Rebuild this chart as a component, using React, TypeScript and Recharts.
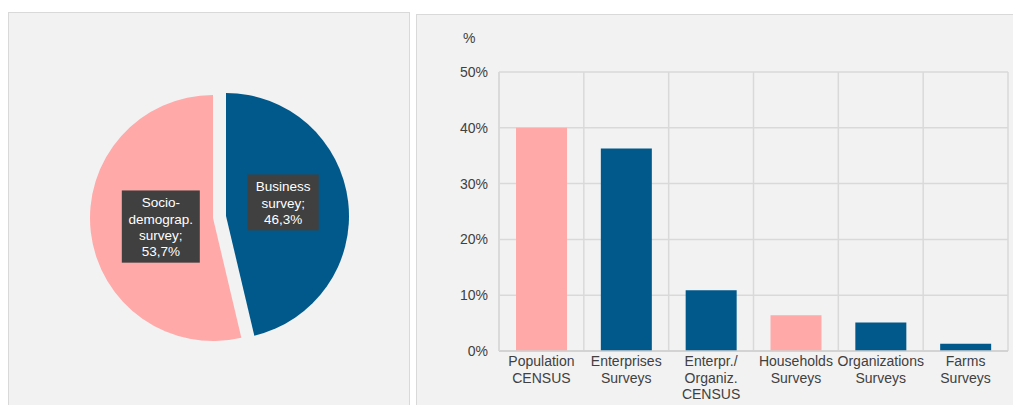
import { PieChart, Pie, Cell, BarChart, Bar, XAxis, YAxis, CartesianGrid } from 'recharts';

// pie: share of surveys by type
const pieNames = ['Business survey', 'Socio-demograp. survey'];
const pieValues = [46.3, 53.7];

// bars: share by survey kind
const barCategories = [
  'Population CENSUS',
  'Enterprises Surveys',
  'Enterpr./ Organiz. CENSUS',
  'Households Surveys',
  'Organizations Surveys',
  'Farms Surveys',
];
const barValues = [40, 36.3, 10.9, 6.4, 5.1, 1.3];
const barKinds = ['socio', 'business', 'business', 'socio', 'business', 'business'];
const yTicks = [0, 10, 20, 30, 40, 50];

const PINK = '#ffa9a9';
const BLUE = '#00598a';
const TEXT = '#404040';
const GRID = '#d9d9d9';
const FONT = '"Liberation Sans", Arial, sans-serif';

const pieData = pieNames.map((name, i) => ({ name, value: pieValues[i] }));
const barData = barCategories.map((name, i) => ({ name, value: barValues[i], kind: barKinds[i] }));

const labelLines: Record<string, string[]> = {
  'Business survey': ['Business', 'survey;'],
  'Socio-demograp. survey': ['Socio-', 'demograp.', 'survey;'],
};

const fmtPct = (v: number) => v.toFixed(1).replace('.', ',') + '%';

function makeLabel(showName: string, nx: number, ny: number) {
  return (props: any) => {
    const { cx, cy, midAngle, outerRadius, name, value } = props;
    if (name !== showName) return null;
    const rad = (Math.PI / 180) * midAngle;
    const r = outerRadius * 0.46;
    const x = cx + r * Math.cos(rad) + nx;
    const y = cy - r * Math.sin(rad) + ny;
    const lines = [...labelLines[name], fmtPct(value)];
    const lh = 16.3;
    const maxLen = Math.max(...lines.map((l) => l.length));
    const w = maxLen * 7 + 15;
    const h = lines.length * lh + 7;
    return (
      <g>
        <rect x={x - w / 2} y={y - h / 2} width={w} height={h} fill="#404040" />
        <text x={x} y={y - h / 2 + 4} textAnchor="middle" fill="#ffffff" fontSize={13.5} fontFamily={FONT}>
          {lines.map((l, i) => (
            <tspan key={i} x={x} dy={i === 0 ? 13 : lh}>
              {l}
            </tspan>
          ))}
        </text>
      </g>
    );
  };
}

function XTick(props: any) {
  const { x, y, payload } = props;
  const words: string[] = String(payload.value).split(' ');
  return (
    <text x={x} y={y} textAnchor="middle" fill={TEXT} fontSize={14} fontFamily={FONT}>
      {words.map((w, i) => (
        <tspan key={i} x={x} dy={i === 0 ? 7 : 16.5}>
          {w}
        </tspan>
      ))}
    </text>
  );
}

export default function App() {
  const panel = {
    position: 'absolute' as const,
    background: '#f2f2f2',
    border: `1px solid ${GRID}`,
    boxSizing: 'border-box' as const,
  };
  return (
    <div style={{ position: 'absolute', left: 0, top: 0, width: 1013, height: 405, background: '#fff', overflow: 'hidden', fontFamily: FONT }}>
      <div style={{ ...panel, left: 8, top: 12, width: 402, height: 410 }}>
        <PieChart width={400} height={393} margin={{ top: 0, right: 0, bottom: 0, left: 0 }}>
          <Pie
            data={pieData}
            dataKey="value"
            nameKey="name"
            cx={204}
            cy={205}
            outerRadius={123}
            startAngle={90}
            endAngle={-270}
            stroke="none"
            isAnimationActive={false}
            labelLine={false}
            label={makeLabel('Socio-demograp. survey', 4, 2)}
          >
            <Cell fill="transparent" />
            <Cell fill={PINK} />
          </Pie>
          <Pie
            data={pieData}
            dataKey="value"
            nameKey="name"
            cx={217}
            cy={203}
            outerRadius={123}
            startAngle={90}
            endAngle={-270}
            stroke="none"
            isAnimationActive={false}
            labelLine={false}
            label={makeLabel('Business survey', 1, -7)}
          >
            <Cell fill={BLUE} />
            <Cell fill="transparent" />
          </Pie>
        </PieChart>
      </div>
      <div style={{ ...panel, left: 416, top: 14, width: 600, height: 410 }}>
        <div style={{ position: 'absolute', left: 46, top: 15, fontSize: 14, color: TEXT }}>%</div>
        <BarChart
          width={596}
          height={395}
          data={barData}
          margin={{ top: 57, right: 5, left: 0, bottom: 0 }}
          barCategoryGap={17}
        >
          <CartesianGrid
            stroke={GRID}
            strokeWidth={1.5}
            verticalCoordinatesGenerator={({ offset }: any) =>
              barCategories.map((_, i) => offset.left + (i * offset.width) / barCategories.length).concat(offset.left + offset.width)
            }
          />
          <XAxis
            dataKey="name"
            interval={0}
            height={59}
            tickLine={false}
            axisLine={{ stroke: '#cfcfcf', strokeWidth: 1.5 }}
            tick={<XTick />}
          />
          <YAxis
            width={82}
            domain={[0, 50]}
            ticks={yTicks}
            tickFormatter={(v) => `${v}%`}
            tickLine={false}
            tickSize={0}
            tickMargin={11}
            axisLine={{ stroke: GRID, strokeWidth: 1.5 }}
            tick={{ fill: TEXT, fontSize: 14, fontFamily: FONT }}
          />
          <Bar dataKey="value" isAnimationActive={false}>
            {barData.map((d, i) => (
              <Cell key={i} fill={d.kind === 'socio' ? PINK : BLUE} />
            ))}
          </Bar>
        </BarChart>
      </div>
    </div>
  );
}
